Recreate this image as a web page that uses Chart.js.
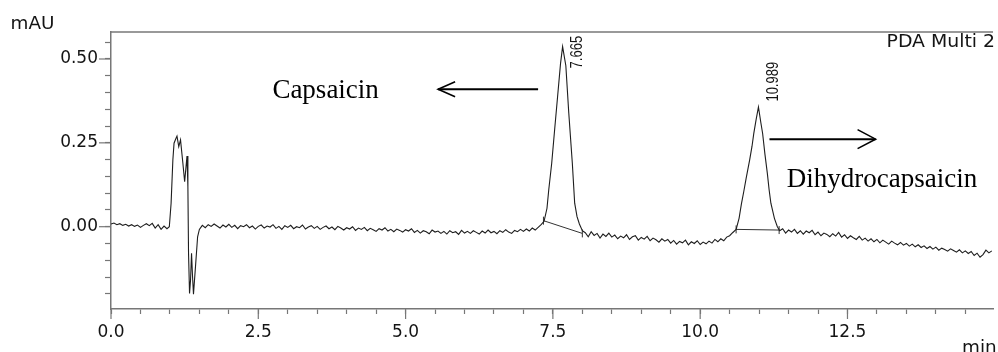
<!DOCTYPE html>
<html>
<head>
<meta charset="utf-8">
<script src="https://cdn.jsdelivr.net/npm/chart.js@4"></script>
<style>
  html, body { margin: 0; padding: 0; background: #fff; overflow: hidden; }
  #wrap { width: 998px; height: 352px; position: relative; }
</style>
</head>
<body>
<div id="wrap"><canvas id="chromChart"></canvas></div>
<script>
// retention time (min)
const retentionTime = [
  0, 0.05, 0.1, 0.15, 0.2, 0.25, 0.3, 0.35, 0.4, 0.45, 0.5, 0.55, 0.6, 0.65, 0.7, 0.75, 0.8, 0.85, 0.9, 0.95,
  0.99, 1.02, 1.05, 1.07, 1.1, 1.12, 1.15, 1.18, 1.22, 1.25, 1.29, 1.305, 1.316, 1.333, 1.35, 1.367, 1.384, 1.4, 1.434, 1.47, 1.5,
  1.55, 1.6, 1.65, 1.7, 1.75, 1.8, 1.85, 1.9, 1.95, 2,
  2.05, 2.1, 2.15, 2.2, 2.25, 2.3, 2.35, 2.4, 2.45, 2.5,
  2.55, 2.6, 2.65, 2.7, 2.75, 2.8, 2.85, 2.9, 2.95, 3,
  3.05, 3.1, 3.15, 3.2, 3.25, 3.3, 3.35, 3.4, 3.45, 3.5,
  3.55, 3.6, 3.65, 3.7, 3.75, 3.8, 3.85, 3.9, 3.95, 4,
  4.05, 4.1, 4.15, 4.2, 4.25, 4.3, 4.35, 4.4, 4.45, 4.5,
  4.55, 4.6, 4.65, 4.7, 4.75, 4.8, 4.85, 4.9, 4.95, 5,
  5.05, 5.1, 5.15, 5.2, 5.25, 5.3, 5.35, 5.4, 5.45, 5.5,
  5.55, 5.6, 5.65, 5.7, 5.75, 5.8, 5.85, 5.9, 5.95, 6,
  6.05, 6.1, 6.15, 6.2, 6.25, 6.3, 6.35, 6.4, 6.45, 6.5,
  6.55, 6.6, 6.65, 6.7, 6.75, 6.8, 6.85, 6.9, 6.95, 7,
  7.05, 7.1, 7.15, 7.2, 7.25, 7.3,
  7.35, 7.4, 7.43, 7.48, 7.53, 7.58, 7.63, 7.665, 7.72, 7.77, 7.83, 7.87, 7.91, 7.95, 8,
  8.05, 8.1, 8.15, 8.2, 8.25, 8.3, 8.35, 8.4, 8.45, 8.5,
  8.55, 8.6, 8.65, 8.7, 8.75, 8.8, 8.85, 8.9, 8.95, 9,
  9.05, 9.1, 9.15, 9.2, 9.25, 9.3, 9.35, 9.4, 9.45, 9.5,
  9.55, 9.6, 9.65, 9.7, 9.75, 9.8, 9.85, 9.9, 9.95, 10,
  10.05, 10.1, 10.15, 10.2, 10.25, 10.3, 10.35, 10.4, 10.45, 10.5,
  10.55,
  10.61, 10.66, 10.7, 10.74, 10.78, 10.84, 10.88, 10.91, 10.95, 10.989, 11.03, 11.06, 11.1, 11.14, 11.17, 11.2, 11.26, 11.31, 11.35,
  11.4, 11.45, 11.5, 11.55, 11.6, 11.65, 11.7, 11.75, 11.8, 11.85,
  11.9, 11.95, 12, 12.05, 12.1, 12.15, 12.2, 12.25, 12.3, 12.35,
  12.4, 12.45, 12.5, 12.55, 12.6, 12.65, 12.7, 12.75, 12.8, 12.85,
  12.9, 12.95, 13, 13.05, 13.1, 13.15, 13.2, 13.25, 13.3, 13.35,
  13.4, 13.45, 13.5, 13.55, 13.6, 13.65, 13.7, 13.75, 13.8, 13.85,
  13.9, 13.95, 14, 14.05, 14.1, 14.15, 14.2, 14.25, 14.3, 14.35,
  14.4, 14.45, 14.5, 14.55, 14.6, 14.65, 14.7, 14.75, 14.8, 14.85,
  14.9, 14.95
];

// detector signal (mAU), same rows as retentionTime
const signal = [
  0.008, 0.011, 0.006, 0.009, 0.004, 0.007, 0.002, 0.006, 0.001, 0.005, -0.002, 0.004, 0.009, 0.003, 0.010, -0.004, 0.006, -0.008, 0.002, -0.006,
  0.000, 0.070, 0.199, 0.249, 0.262, 0.270, 0.239, 0.259, 0.189, 0.134, 0.211, 0.119, -0.079, -0.199, -0.159, -0.079, -0.149, -0.201, -0.119, -0.030, -0.008,
  0.004, -0.003, 0.006, 0.001, 0.008, 0.002, -0.004, 0.005, -0.001, 0.007,
  -0.002, 0.004, -0.006, 0.003, 0.000, 0.006, -0.003, 0.002, -0.007, 0.001,
  0.005, -0.004, 0.002, -0.001, 0.006, -0.005, 0.001, -0.008, 0.003, -0.002,
  0.004, -0.006, 0.000, -0.003, 0.005, -0.007, -0.001, 0.003, -0.005, 0.001,
  -0.008, -0.002, 0.002, -0.006, -0.001, -0.009, 0.001, -0.004, -0.010, -0.003,
  -0.007, 0.000, -0.011, -0.004, -0.008, -0.002, -0.012, -0.005, -0.009, -0.014,
  -0.006, -0.010, -0.003, -0.013, -0.008, -0.015, -0.007, -0.011, -0.016, -0.009,
  -0.013, -0.006, -0.017, -0.011, -0.019, -0.012, -0.015, -0.021, -0.010, -0.016,
  -0.013, -0.020, -0.014, -0.022, -0.012, -0.018, -0.015, -0.023, -0.011, -0.019,
  -0.014, -0.020, -0.012, -0.017, -0.022, -0.013, -0.019, -0.010, -0.018, -0.014,
  -0.021, -0.012, -0.017, -0.009, -0.016, -0.020, -0.011, -0.015, -0.008, -0.014,
  -0.007, -0.013, -0.004, -0.010, -0.002, 0.006,
  0.016, 0.055, 0.110, 0.189, 0.290, 0.388, 0.487, 0.537, 0.480, 0.338, 0.189, 0.070, 0.030, 0.008, -0.012,
  -0.018, -0.030, -0.015, -0.026, -0.020, -0.034, -0.022, -0.029, -0.019, -0.031,
  -0.025, -0.036, -0.028, -0.033, -0.024, -0.038, -0.030, -0.027, -0.040, -0.032,
  -0.037, -0.029, -0.042, -0.034, -0.039, -0.046, -0.036, -0.043, -0.038, -0.049,
  -0.041, -0.052, -0.044, -0.048, -0.040, -0.054, -0.045, -0.050, -0.042, -0.053,
  -0.046, -0.051, -0.043, -0.049, -0.038, -0.045, -0.036, -0.042, -0.031, -0.027,
  -0.018,
  -0.008, 0.025, 0.068, 0.105, 0.144, 0.199, 0.240, 0.278, 0.320, 0.357, 0.310, 0.278, 0.215, 0.159, 0.110, 0.070, 0.025, 0.000, -0.012,
  -0.006, -0.019, -0.010, -0.016, -0.008, -0.020, -0.012, -0.022, -0.013, -0.018,
  -0.011, -0.024, -0.016, -0.027, -0.019, -0.023, -0.030, -0.021, -0.028, -0.017,
  -0.031, -0.024, -0.035, -0.027, -0.033, -0.038, -0.029, -0.040, -0.034, -0.043,
  -0.036, -0.045, -0.038, -0.048, -0.040, -0.046, -0.052, -0.043, -0.049, -0.054,
  -0.047, -0.055, -0.050, -0.058, -0.052, -0.060, -0.054, -0.062, -0.057, -0.065,
  -0.059, -0.067, -0.061, -0.070, -0.064, -0.068, -0.073, -0.066, -0.071, -0.076,
  -0.069, -0.078, -0.072, -0.080, -0.074, -0.086, -0.079, -0.091, -0.083, -0.070,
  -0.078, -0.072
];

// integration baselines under the two peaks
const baseline1Time = [7.34, 8.0];
const baseline1Value = [0.018, -0.02];
const baseline2Time = [10.61, 11.34];
const baseline2Value = [-0.008, -0.01];

const peakTimes = [7.665, 10.989];
const peakNames = ['Capsaicin', 'Dihydrocapsaicin'];

const xTicks = [0, 0.5, 1, 1.5, 2, 2.5, 3, 3.5, 4, 4.5, 5, 5.5, 6, 6.5, 7, 7.5, 8, 8.5, 9, 9.5, 10, 10.5, 11, 11.5, 12, 12.5, 13, 13.5, 14, 14.5];
const xLabelTicks = [0, 2.5, 5, 7.5, 10, 12.5];
const yTicks = [-0.2, -0.15, -0.1, -0.05, 0, 0.05, 0.1, 0.15, 0.2, 0.25, 0.3, 0.35, 0.4, 0.45, 0.5, 0.55];
const yLabelTicks = [0, 0.25, 0.5];

const axisColor = '#777';
const textColor = '#141414';

function isLabelTick(list, v) {
  return list.some(t => Math.abs(t - v) < 1e-6);
}

function toPoints(times, values) {
  return times.map((t, i) => ({ x: t, y: values[i] }));
}

// wide sans text, like the stretched labels of the original
function wideText(ctx, text, x, y, sx) {
  ctx.save();
  ctx.translate(x, y);
  ctx.scale(sx, 1);
  ctx.fillText(text, 0, 0);
  ctx.restore();
}

// annotations: axis units, header text, peak labels, compound names and arrows
const annotate = {
  id: 'annotate',
  afterDraw(chart, args, opts) {
    const ctx = chart.ctx;
    const xs = chart.scales.x;
    const ys = chart.scales.y;
    const area = chart.chartArea;
    ctx.save();

    // top frame line
    ctx.strokeStyle = axisColor;
    ctx.lineWidth = 1.5;
    ctx.beginPath();
    ctx.moveTo(area.left, area.top);
    ctx.lineTo(area.right, area.top);
    ctx.stroke();

    // longer major ticks
    ctx.lineWidth = 1.2;
    xLabelTicks.forEach(v => {
      const px = xs.getPixelForValue(v);
      ctx.beginPath();
      ctx.moveTo(px, area.bottom);
      ctx.lineTo(px, area.bottom + 10);
      ctx.stroke();
    });
    yLabelTicks.forEach(v => {
      const py = ys.getPixelForValue(v);
      ctx.beginPath();
      ctx.moveTo(area.left - 12, py);
      ctx.lineTo(area.left, py);
      ctx.stroke();
    });

    ctx.fillStyle = textColor;
    ctx.textBaseline = 'alphabetic';
    ctx.textAlign = 'left';
    ctx.font = '17px "DejaVu Sans"';
    wideText(ctx, 'mAU', area.left - 100.5, area.top - 3, 1.08);
    wideText(ctx, 'min', area.right - 31, area.bottom + 44, 1.08);
    wideText(ctx, 'PDA Multi 2', area.right - 106.5, area.top + 14.7, 1.11);

    // retention time labels, rotated
    ctx.font = '13px "Liberation Sans"';
    ctx.textBaseline = 'middle';
    peakTimes.forEach((t, i) => {
      const pos = opts.peakLabelAt[i];
      ctx.save();
      ctx.translate(xs.getPixelForValue(pos[0]), ys.getPixelForValue(pos[1]));
      ctx.rotate(-Math.PI / 2);
      ctx.scale(1, 1.2);
      ctx.fillText(t.toFixed(3), 0, 0);
      ctx.restore();
    });

    // compound names
    ctx.font = '27px "Liberation Serif"';
    ctx.textBaseline = 'alphabetic';
    ctx.fillStyle = '#000';
    peakNames.forEach((name, i) => {
      const pos = opts.nameAt[i];
      ctx.fillText(name, xs.getPixelForValue(pos[0]), ys.getPixelForValue(pos[1]));
    });

    // arrows
    ctx.strokeStyle = '#000';
    opts.arrows.forEach(a => {
      const x0 = xs.getPixelForValue(a.from);
      const x1 = xs.getPixelForValue(a.to);
      const py = ys.getPixelForValue(a.y);
      const dir = x1 > x0 ? 1 : -1;
      ctx.lineWidth = 2;
      ctx.beginPath();
      ctx.moveTo(x0, py);
      ctx.lineTo(x1, py);
      ctx.stroke();
      ctx.lineWidth = 1.6;
      ctx.beginPath();
      ctx.moveTo(x1 - dir * a.headLen, py - a.headHalf);
      ctx.lineTo(x1, py);
      ctx.lineTo(x1 - dir * a.headLen, py + a.headHalf);
      ctx.stroke();
    });

    ctx.restore();
  }
};

const tickFont = { family: 'DejaVu Sans', size: 17 };

new Chart(document.getElementById('chromChart'), {
  type: 'line',
  data: {
    datasets: [
      {
        data: toPoints(retentionTime, signal),
        borderColor: '#1e1e1e',
        borderWidth: 1.1,
        pointRadius: 0,
        tension: 0
      },
      {
        data: toPoints(baseline1Time, baseline1Value),
        borderColor: '#333',
        borderWidth: 1,
        pointStyle: 'line',
        rotation: 90,
        pointRadius: 4,
        pointBorderWidth: 1,
        pointBorderColor: '#333'
      },
      {
        data: toPoints(baseline2Time, baseline2Value),
        borderColor: '#333',
        borderWidth: 1,
        pointStyle: 'line',
        rotation: 90,
        pointRadius: 4,
        pointBorderWidth: 1,
        pointBorderColor: '#333'
      }
    ]
  },
  options: {
    responsive: true,
    maintainAspectRatio: false,
    animation: false,
    layout: { padding: { top: 32, left: 0, right: 0, bottom: 0 } },
    plugins: {
      legend: { display: false },
      tooltip: { enabled: false },
      annotate: {
        peakLabelAt: [[7.914, 0.472], [11.247, 0.373]],
        nameAt: [[2.739, 0.383], [11.47, 0.119]],
        arrows: [
          { from: 7.249, to: 5.552, y: 0.410, headLen: 17, headHalf: 7.5 },
          { from: 11.176, to: 12.977, y: 0.261, headLen: 18, headHalf: 9.5 }
        ]
      }
    },
    scales: {
      x: {
        type: 'linear',
        min: 0,
        max: 14.97,
        afterBuildTicks: (scale) => { scale.ticks = xTicks.map(v => ({ value: v })); },
        afterFit: (scale) => {
          scale.height = 43;
          scale.paddingRight = 0;
          scale.paddingLeft = 0;
        },
        border: { display: true, color: axisColor, width: 1.5 },
        grid: { drawOnChartArea: false, drawTicks: true, tickLength: 5, tickColor: axisColor, tickWidth: 1.2 },
        ticks: {
          autoSkip: false,
          maxRotation: 0,
          padding: 8,
          color: textColor,
          font: tickFont,
          callback: (v) => isLabelTick(xLabelTicks, v) ? v.toFixed(1) : ''
        }
      },
      y: {
        min: -0.2454,
        max: 0.5805,
        afterBuildTicks: (scale) => { scale.ticks = yTicks.map(v => ({ value: v })); },
        afterFit: (scale) => {
          scale.width = 111;
          scale.paddingTop = 0;
          scale.paddingBottom = 0;
        },
        border: { display: true, color: axisColor, width: 1.5 },
        grid: { drawOnChartArea: false, drawTicks: true, tickLength: 6, tickColor: axisColor, tickWidth: 1.2 },
        ticks: {
          autoSkip: false,
          padding: 7,
          color: textColor,
          font: tickFont,
          callback: (v) => isLabelTick(yLabelTicks, v) ? v.toFixed(2) : ''
        }
      }
    }
  },
  plugins: [annotate]
});
</script>
</body>
</html>
